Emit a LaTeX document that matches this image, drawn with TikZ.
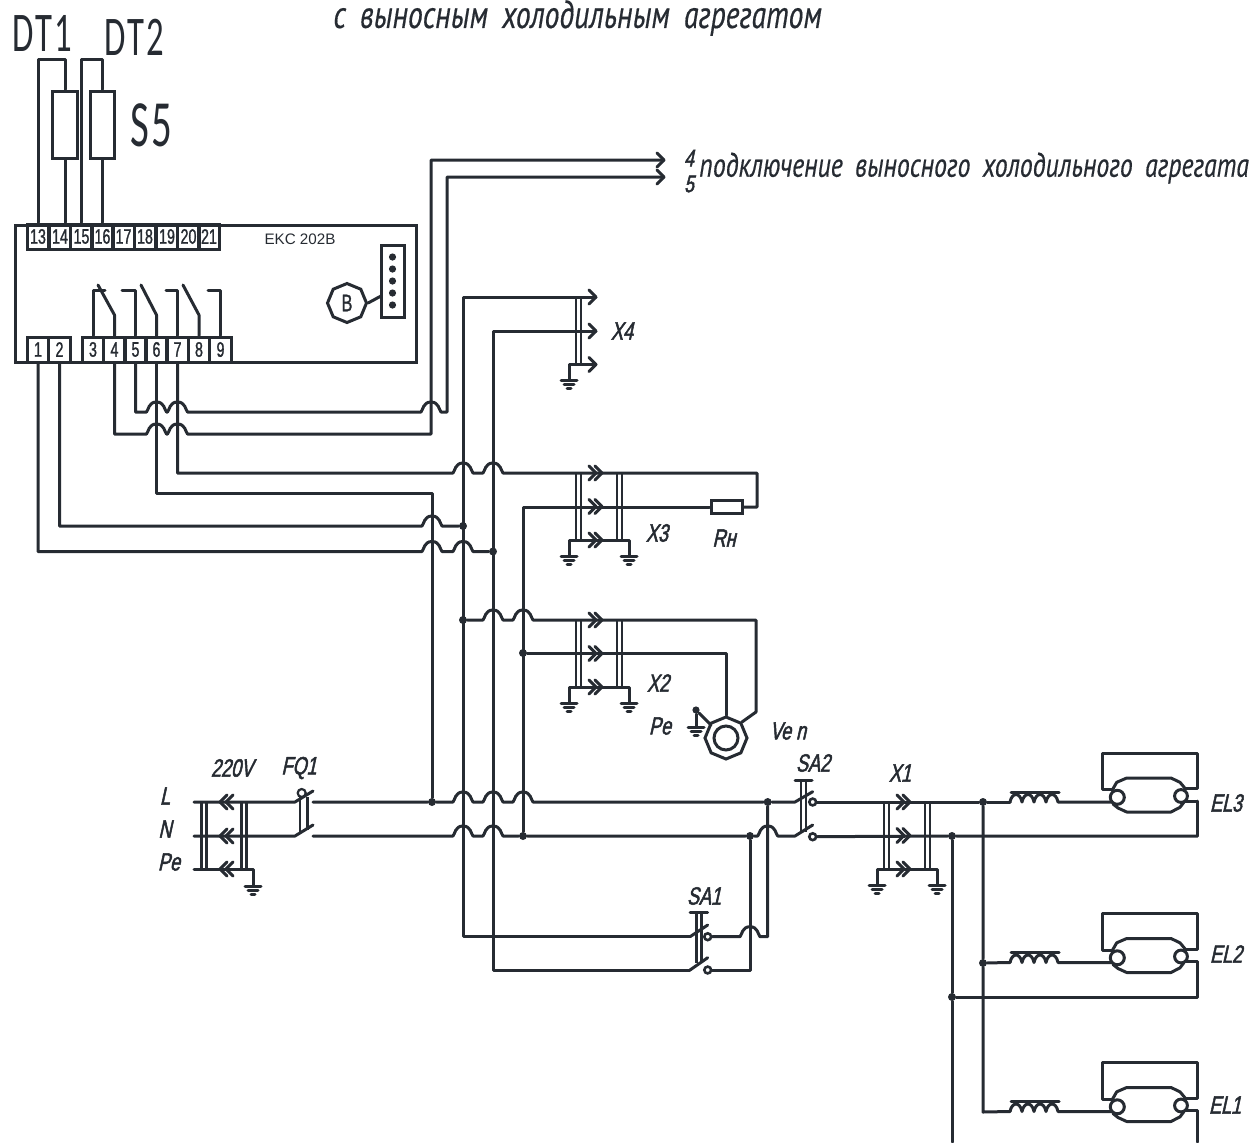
\documentclass[tikz,border=0pt]{standalone}
\usepackage{xcolor}
\usepackage{fontspec}
\usetikzlibrary{shapes.geometric}
\definecolor{ink}{RGB}{38,43,50}
\newfontfamily\cadit[FakeStretch=.72,FakeSlant=.22,FakeBold=2]{Liberation Sans}
\newfontfamily\cadnum[FakeStretch=.68,FakeBold=1.2]{Liberation Sans}
\newfontfamily\cadtall[FakeStretch=.62,LetterSpace=4]{Carlito}
\newfontfamily\cadrun[FakeStretch=.76,FakeBold=.4,WordSpace=1.8]{PT Sans}
\tikzset{
 wire/.style={line width=1.5pt,color=ink,line cap=round,line join=round},
 bar/.style={line width=1.2pt,color=ink},
 cell/.style={draw=ink,line width=1.5pt,minimum width=10.75pt,minimum height=12.5pt,inner sep=0pt,text=ink,font=\cadnum\fontsize{10.5}{10.5}\selectfont},
 dot/.style={circle,fill=ink,minimum size=4pt,inner sep=0pt},
 ctact/.style={circle,draw=ink,fill=white,line width=1.3pt,minimum size=3.4pt,inner sep=0pt},
 lab/.style={text=ink,inner sep=0pt,font=\cadit\fontsize{12.5}{12.5}\selectfont},
 box/.style={draw=ink,line width=1.5pt,inner sep=0pt}
}
\newcommand{\hop}[2]{-- (#1-10,#2) .. controls (#1-8,#2-2) and (#1-8,#2-10) .. (#1,#2-10) .. controls (#1+8,#2-10) and (#1+8,#2-2) .. (#1+10,#2)}
\newcommand{\chevr}[2]{\draw[wire] (#1-7,#2-7) -- (#1,#2) -- (#1-7,#2+7);}
\newcommand{\chevl}[2]{\draw[wire] (#1+7,#2-7) -- (#1,#2) -- (#1+7,#2+7);}
\newcommand{\dbar}[3]{\draw[bar] (#1,#2) -- (#1,#3); \draw[bar] (#1+5,#2) -- (#1+5,#3);}
\newcommand{\gnd}[1]{\draw[wire] ([xshift=-4pt]#1) -- ([xshift=4pt]#1);
 \draw[wire] ([xshift=-2.5pt,yshift=-2pt]#1) -- ([xshift=2.5pt,yshift=-2pt]#1);
 \draw[wire] ([xshift=-1pt,yshift=-4pt]#1) -- ([xshift=1pt,yshift=-4pt]#1);}
\newcommand{\xblock}[3]{
 \coordinate (#1_ga) at (#2,#3+83);
 \coordinate (#1_gb) at (#2+60,#3+83);
 \coordinate (#1_a) at (#2,#3+67);
 \coordinate (#1_b) at (#2+60,#3+67);
 \dbar{#2+7}{#3}{#3+67}
 \dbar{#2+48}{#3}{#3+67}
 \chevr{#2+27}{#3} \chevr{#2+33}{#3}
 \chevr{#2+27}{#3+33.5} \chevr{#2+33}{#3+33.5}
 \chevr{#2+27}{#3+67} \chevr{#2+33}{#3+67}
 \draw[wire] (#1_ga) -- (#1_a) -- (#1_b) -- (#1_gb);
 \gnd{#1_ga}
 \gnd{#1_gb}
}
\newcommand{\lampunit}[2]{
 \begin{scope}[shift={(0,#2)}]
 \coordinate (#1_in) at (1010,802);
 \coordinate (#1_ret) at (1197,801);
 \coordinate (#1_tl) at (1102,789.5);
 \coordinate (#1_tr) at (1197,788.5);
 \node[circle,draw=ink,line width=1.5pt,minimum size=7pt,inner sep=0pt] (#1_l) at (1117.3,797.3) {};
 \node[circle,draw=ink,line width=1.5pt,minimum size=6.4pt,inner sep=0pt] (#1_r) at (1181,796) {};
 \draw[wire] (#1_in) .. controls (1012,792) and (1020,792) .. (1022,802) .. controls (1024,792) and (1032,792) .. (1034,802) .. controls (1036,792) and (1044,792) .. (1046,802) .. controls (1048,792) and (1056,792) .. (1058,802) -- (1112,802);
 \draw[wire] (1011,792) -- (1059,792);
 \draw[wire] (1112.3,790) -- (1116.7,782.3) -- (1126.7,778) -- (1171,778) -- (1180,782.3) -- (1185,788.3);
 \draw[wire] (1113,804) -- (1118,808) -- (1126.7,812) -- (1171,812) -- (1180,807.3) -- (1184,802);
 \draw[wire] (1112.3,789.5) -- (#1_tl) |- (1197,753) -- (#1_tr) -- (1185,788.5);
 \draw[wire] (1185,801) -- (#1_ret);
 \end{scope}
}

\begin{document}
\begin{tikzpicture}[x=.5pt,y=-.5pt]
 \useasboundingbox (0,0) rectangle (1254,1142);

 \node[text=ink,right,inner sep=0pt] (title) at (333,18) {\cadrun\itshape\fontsize{19.5}{19.5}\selectfont с выносным холодильным агрегатом};
 \node[text=ink,right,inner sep=0pt] (DT1) at (12,33) {\cadtall\fontsize{28}{28}\selectfont DT1};
 \node[text=ink,right,inner sep=0pt] (DT2) at (104,37) {\cadtall\fontsize{28}{28}\selectfont DT2};
 \node[text=ink,right,inner sep=0pt] (S5) at (130,125) {\cadtall\fontsize{33}{33}\selectfont S5};

 \node[box,minimum width=200.5pt,minimum height=68.5pt] (ekc) at (215.5,293.5) {};
 \node[text=ink,inner sep=0pt] (ekcname) at (300,239) {\fontspec{Liberation Sans}\fontsize{7.6}{7.6}\selectfont EKC 202B};

 \node[cell] (t13) at (38,236.5) {13};
 \node[cell] (t14) at (60,236.5) {14};
 \node[cell] (t15) at (81.5,236.5) {15};
 \node[cell] (t16) at (102.5,236.5) {16};
 \node[cell] (t17) at (123.5,236.5) {17};
 \node[cell] (t18) at (145,236.5) {18};
 \node[cell] (t19) at (167,236.5) {19};
 \node[cell] (t20) at (188.5,236.5) {20};
 \node[cell] (t21) at (209,236.5) {21};

 \node[cell] (t1) at (38,349.5) {1};
 \node[cell] (t2) at (59.5,349.5) {2};
 \node[cell] (t3) at (93,349.5) {3};
 \node[cell] (t4) at (114.5,349.5) {4};
 \node[cell] (t5) at (135.5,349.5) {5};
 \node[cell] (t6) at (156.5,349.5) {6};
 \node[cell] (t7) at (177.5,349.5) {7};
 \node[cell] (t8) at (199,349.5) {8};
 \node[cell] (t9) at (220.5,349.5) {9};

 \node[box,minimum width=12.5pt,minimum height=33.5pt] (r1) at (65,124.5) {};
 \node[box,minimum width=12pt,minimum height=33.5pt] (r2) at (102,124.5) {};
 \coordinate (DT1_top) at (65,59);
 \coordinate (DT2_top) at (102,59);
 \draw[wire] (t13.north) |- (DT1_top) -- (r1.north);
 \draw[wire] (r1.south) -- (r1.south |- t14.north);
 \draw[wire] (t15.north) |- (DT2_top) -- (r2.north);
 \draw[wire] (r2.south) -- (r2.south |- t16.north);

 \draw[wire] (t3.north) |- (105,290);
 \draw[wire] (t4.north) -- (114.5,315) -- (98,285);
 \draw[wire] (t5.north) |- (122,290);
 \draw[wire] (t6.north) -- (156.5,315) -- (141,285);
 \draw[wire] (t7.north) |- (166,290);
 \draw[wire] (t8.north) -- (199,315) -- (183,285);
 \draw[wire] (t9.north) |- (208,290);

 \node[box,minimum width=11.5pt,minimum height=36pt] (usb) at (392.5,281) {};
 \node[dot,minimum size=3.6pt] (u1) at (392.5,257) {};
 \node[dot,minimum size=3.6pt] (u2) at (392.5,269) {};
 \node[dot,minimum size=3.6pt] (u3) at (392.5,281) {};
 \node[dot,minimum size=3.6pt] (u4) at (392.5,293) {};
 \node[dot,minimum size=3.6pt] (u5) at (392.5,305) {};
 \node[regular polygon,regular polygon sides=8,shape border rotate=22.5,draw=ink,line width=1.5pt,minimum size=19.5pt,inner sep=0pt,text=ink] (bbox) at (347,303) {\cadnum\fontsize{12}{12}\selectfont B};
 \coordinate (usb_in) at (381,296);
 \draw[wire] (bbox.east) -- (usb_in);

 \coordinate (out4) at (664,160);
 \coordinate (out5) at (664,177);
 \draw[wire] (t4.south) |- (130,434) \hop{156.5}{434} \hop{177.5}{434} -- (431,434) |- (out4);
 \draw[wire] (t5.south) |- (140,412) \hop{156.5}{412} \hop{177.5}{412} \hop{431}{412} -- (447,412) |- (out5);
 \chevr{664}{160}
 \chevr{664}{177}
 \node[lab,font=\cadit\fontsize{12}{12}\selectfont] (n4) at (689,158) {4};
 \node[lab,font=\cadit\fontsize{12}{12}\selectfont] (n5) at (689,184) {5};
 \node[text=ink,right,inner sep=0pt] (outtxt) at (699,168) {\cadrun\itshape\fontsize{17}{17}\selectfont подключение выносного холодильного агрегата};

 \node[dot] (dL) at (432,802) {};
 \node[dot] (d2) at (463,526) {};
 \node[dot] (d1) at (493,551.5) {};
 \node[dot] (d620) at (463,620) {};
 \node[dot] (d653) at (523,653) {};
 \node[dot] (dN) at (523,836) {};
 \node[dot] (dLb) at (767.7,802) {};
 \node[dot] (dNb) at (750,836) {};
 \node[dot] (dEL) at (983,802) {};
 \node[dot] (dN2) at (952,836) {};
 \node[dot] (dEL2) at (983,963) {};
 \node[dot] (dN3) at (952,997) {};

 \draw[wire] (t1.south) |- (50,551.5) \hop{432}{551.5} \hop{463}{551.5} -- (d1);
 \draw[wire] (t2.south) |- (70,526) \hop{432}{526} -- (d2);
 \coordinate (t6_turn) at (432,493);
 \draw[wire] (t6.south) |- (t6_turn) -- (dL);
 \node[box,minimum width=15.5pt,minimum height=6.5pt] (Rn) at (726.5,507) {};
 \coordinate (x3_top) at (757,473);
 \coordinate (x3_bot) at (757,507);
 \coordinate (x3_in) at (523,507);
 \draw[wire] (t7.south) |- (200,473) \hop{463}{473} \hop{493}{473} -- (x3_top) -- (x3_bot) -- (Rn.east);
 \draw[wire] (Rn.west) -- (x3_in) -- (dN);

 \coordinate (bus1) at (463,297);
 \coordinate (bus2) at (493,331);
 \coordinate (x4a) at (596,297);
 \coordinate (x4b) at (596,331);
 \coordinate (x4c) at (596,364.5);
 \coordinate (x4g) at (569,364.5);
 \coordinate (x4e) at (569,380);
 \coordinate (sa1a) at (690,936.7);
 \coordinate (sa1b) at (690,970);
 \draw[wire] (x4a) -- (bus1) |- (sa1a);
 \draw[wire] (x4b) -- (bus2) |- (sa1b);
 \draw[wire] (x4e) -- (x4g) -- (x4c);
 \dbar{576}{297}{364.5}
 \chevr{596}{297}
 \chevr{596}{331}
 \chevr{596}{364.5}
 \gnd{x4e}
 \node[lab] (X4) at (622,331) {X4};

 \xblock{x3}{569}{473}
 \node[lab] (X3) at (657,533) {X3};
 \node[lab] (Rnt) at (724,538) {Rн};

 \node[regular polygon,regular polygon sides=8,shape border rotate=22.5,draw=ink,line width=1.5pt,minimum size=21pt,inner sep=0pt] (motor) at (726,738) {};
 \node[circle,draw=ink,line width=1.5pt,minimum size=12pt,inner sep=0pt] (motori) at (726,738) {};
 \coordinate (m_turn) at (756,712);
 \coordinate (m_top) at (756,620);
 \coordinate (m_in) at (726,653);
 \node[dot,minimum size=3.6pt] (pe) at (696,710) {};
 \coordinate (pe_g) at (696,727);
 \draw[wire] (d620) \hop{493}{620} \hop{523}{620} -- (m_top) -- (m_turn) -- (motor.45);
 \draw[wire] (d653) -- (m_in) -- (motor.north);
 \draw[wire] (pe) -- (pe_g);
 \draw[wire] (pe) -- (711,725);
 \gnd{pe_g}
 \xblock{x2}{569}{620}
 \node[lab] (X2) at (658,683) {X2};
 \node[lab] (Pe2) at (660,726) {Pe};
 \node[lab] (Ve) at (788,731) {Ve n};

 \coordinate (Lin) at (194,802);
 \coordinate (Nin) at (194,836);
 \coordinate (Pin) at (194,869);
 \coordinate (Lsw) at (295,802);
 \coordinate (Nsw) at (295,836);
 \coordinate (Lout) at (313,802);
 \coordinate (Nout) at (313,836);
 \coordinate (Pend) at (253,869);
 \coordinate (Pgnd) at (253,886);
 \draw[wire] (Lin) -- (Lsw) -- (313,791);
 \draw[wire] (Nin) -- (Nsw) -- (313,825);
 \draw[wire] (Pin) -- (Pend) -- (Pgnd);
 \dbar{201.5}{802}{869}
 \dbar{241.5}{802}{869}
 \chevl{220}{802} \chevl{226}{802}
 \chevl{220}{836} \chevl{226}{836}
 \chevl{220}{869} \chevl{226}{869}
 \gnd{Pgnd}
 \draw[bar] (300,797) -- (300,832);
 \draw[bar] (307.5,797) -- (307.5,830);
 \node[circle,draw=ink,fill=white,line width=1.1pt,minimum size=4pt,inner sep=0pt] (fq) at (301.7,793) {};
 \node[lab] (Lt) at (165,796) {L};
 \node[lab] (Nt) at (165,829) {N};
 \node[lab] (Pet) at (169,862) {Pe};
 \node[lab] (V220) at (232,768) {220V};
 \node[lab] (FQ1) at (299,768) {FQ1};

 \node[ctact] (c2a) at (812.7,802) {};
 \node[ctact] (c2b) at (812.7,836.7) {};
 \node[ctact] (c1a) at (707.7,936.7) {};
 \node[ctact] (c1b) at (707.7,970) {};
 \coordinate (sa2a) at (795,802);
 \coordinate (sa2b) at (795,836);
 \coordinate (ret_N) at (1197,836);

 \draw[wire] (Lout) -- (dL) \hop{463}{802} \hop{493}{802} \hop{523}{802} -- (dLb) -- (sa2a) -- (812.7,791.7);
 \draw[wire] (Nout) \hop{463}{836} \hop{493}{836} -- (dN) -- (dNb) \hop{767.7}{836} -- (sa2b) -- (812.7,825);
 \draw[wire] (c2a) -- (dEL);
 \draw[wire] (c2b) -- (dN2) -- (ret_N);
 \dbar{801}{780}{832}
 \draw[wire] (795,780) -- (812,780);
 \node[lab] (SA2) at (813,763) {SA2};

 \xblock{x1}{877}{802}
 \node[lab] (X1) at (900,773) {X1};

 \draw[wire] (sa1a) -- (707.7,925);
 \draw[wire] (sa1b) -- (707.7,957.7);
 \draw[wire] (c1a) \hop{750}{936.7} -- (767.7,936.7) -- (dLb);
 \draw[wire] (c1b) -- (750,970) -- (dNb);
 \dbar{696.5}{912.7}{963}
 \draw[wire] (690,912.7) -- (707.7,912.7);
 \node[lab] (SA1) at (704,896) {SA1};

 \lampunit{el3}{0}
 \lampunit{el2}{160.5}
 \lampunit{el1}{309.5}
 \coordinate (bot1) at (983,1112);
 \coordinate (bot2) at (952,1142);
 \coordinate (bot3) at (1197,1142);
 \draw[wire] (dEL) -- (el3_in);
 \draw[wire] (dEL) -- (dEL2) -- (bot1) -- (el1_in);
 \draw[wire] (dEL2) -- (el2_in);
 \draw[wire] (dN2) -- (dN3) -- (bot2);
 \draw[wire] (el3_ret) -- (ret_N);
 \draw[wire] (dN3) -| (el2_ret);
 \draw[wire] (el1_ret) -- (bot3);
 \node[lab] (EL3) at (1226,803) {EL3};
 \node[lab] (EL2) at (1226,954) {EL2};
 \node[lab] (EL1) at (1225,1105) {EL1};
\end{tikzpicture}
\end{document}
